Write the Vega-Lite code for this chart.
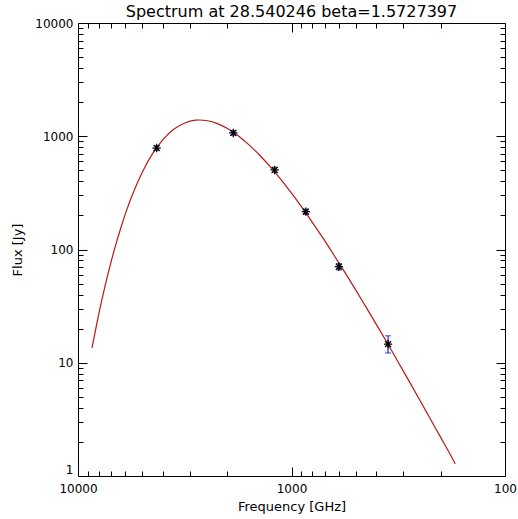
{
  "$schema": "https://vega.github.io/schema/vega-lite/v6.json",
  "autosize": {"type": "none"},
  "padding": {"left": 78, "top": 23, "right": 13, "bottom": 43},
  "width": 427,
  "height": 453,
  "background": "white",
  "title": {"text": "Spectrum at 28.540246 beta=1.5727397", "fontSize": 16, "font": "DejaVu Sans", "fontWeight": "normal", "color": "black", "offset": -3, "anchor": "middle"},
  "config": {
    "view": {"stroke": "black", "strokeWidth": 1},
    "axis": {"domain": false, "grid": false, "tickColor": "black", "tickWidth": 1, "labelFont": "DejaVu Sans", "labelFontSize": 12, "labelColor": "black", "titleFont": "DejaVu Sans", "titleFontSize": 13, "titleFontWeight": "normal", "titleColor": "black", "labelFlush": false, "labelOverlap": false}
  },
  "datasets": {
    "curve": [
      {"nu": 8600, "flux": 13.5}, {"nu": 8200, "flux": 21.3}, {"nu": 7943, "flux": 28.4}, {"nu": 7500, "flux": 46.0},
      {"nu": 7079, "flux": 71.6}, {"nu": 6700, "flux": 105.4}, {"nu": 6310, "flux": 154}, {"nu": 5950, "flux": 216},
      {"nu": 5623, "flux": 289}, {"nu": 5012, "flux": 477}, {"nu": 4467, "flux": 706}, {"nu": 3981, "flux": 944},
      {"nu": 3548, "flux": 1157}, {"nu": 3162, "flux": 1311}, {"nu": 2818, "flux": 1386}, {"nu": 2690, "flux": 1392},
      {"nu": 2512, "flux": 1377}, {"nu": 2239, "flux": 1299}, {"nu": 1995, "flux": 1171}, {"nu": 1778, "flux": 1012},
      {"nu": 1585, "flux": 844}, {"nu": 1413, "flux": 683}, {"nu": 1259, "flux": 539}, {"nu": 1122, "flux": 416},
      {"nu": 1000, "flux": 314}, {"nu": 891.3, "flux": 234}, {"nu": 794.3, "flux": 171}, {"nu": 707.9, "flux": 124},
      {"nu": 631, "flux": 88.6}, {"nu": 562.3, "flux": 62.8}, {"nu": 501.2, "flux": 44.2}, {"nu": 446.7, "flux": 30.8},
      {"nu": 398.1, "flux": 21.4}, {"nu": 354.8, "flux": 14.8}, {"nu": 316.2, "flux": 10.1}, {"nu": 281.8, "flux": 6.92},
      {"nu": 251.2, "flux": 4.72}, {"nu": 223.9, "flux": 3.2}, {"nu": 199.5, "flux": 2.17}, {"nu": 177.8, "flux": 1.47},
      {"nu": 171, "flux": 1.28}
    ],
    "obs": [
      {"nu": 4283, "flux": 787, "lo": 750, "hi": 825},
      {"nu": 1874, "flux": 1069, "lo": 1020, "hi": 1120},
      {"nu": 1199, "flux": 504, "lo": 480, "hi": 530},
      {"nu": 857, "flux": 216, "lo": 205, "hi": 227},
      {"nu": 600, "flux": 70.5, "lo": 66, "hi": 75},
      {"nu": 353, "flux": 14.6, "lo": 12.2, "hi": 17.3}
    ]
  },
  "resolve": {"axis": {"x": "independent", "y": "independent"}},
  "layer": [
    {
      "data": {"name": "curve"},
      "mark": {"type": "line", "color": "#b81818", "strokeWidth": 1.2, "clip": true, "interpolate": "monotone"},
      "encoding": {
        "x": {"field": "nu", "type": "quantitative", "scale": {"type": "log", "domain": [100, 10000], "reverse": true, "nice": false},
              "axis": {"orient": "bottom", "values": [100, 1000, 10000], "format": "d", "tickSize": -9, "labelPadding": 16, "title": "Frequency [GHz]", "titlePadding": 6}},
        "y": {"field": "flux", "type": "quantitative", "scale": {"type": "log", "domain": [1, 10000], "nice": false},
              "axis": {"orient": "left", "values": [1, 10, 100, 1000, 10000], "format": "d", "tickSize": -9, "labelPadding": 14, "title": "Flux [Jy]", "titlePadding": 10,
                       "labelBaseline": {"condition": {"test": "datum.value == 1", "value": "bottom"}, "value": "middle"}}}
      }
    },
    {
      "data": {"name": "obs"},
      "mark": {"type": "rule", "color": "#2020c0", "strokeWidth": 1.2},
      "encoding": {
        "x": {"field": "nu", "type": "quantitative",
              "axis": {"orient": "bottom", "values": [200, 300, 400, 500, 600, 700, 800, 900, 2000, 3000, 4000, 5000, 6000, 7000, 8000, 9000], "tickSize": -5, "labels": false, "title": null}},
        "y": {"field": "lo", "type": "quantitative",
              "axis": {"orient": "left", "values": [2, 3, 4, 5, 6, 7, 8, 9, 20, 30, 40, 50, 60, 70, 80, 90, 200, 300, 400, 500, 600, 700, 800, 900, 2000, 3000, 4000, 5000, 6000, 7000, 8000, 9000], "tickSize": -5, "labels": false, "title": null}},
        "y2": {"field": "hi"}
      }
    },
    {
      "data": {"name": "obs"},
      "mark": {"type": "tick", "orient": "horizontal", "color": "#2020c0", "size": 6, "thickness": 1.2},
      "encoding": {
        "x": {"field": "nu", "type": "quantitative",
              "axis": {"orient": "top", "values": [100, 1000, 10000], "tickSize": -9, "labels": false, "title": null}},
        "y": {"field": "lo", "type": "quantitative",
              "axis": {"orient": "right", "values": [1, 10, 100, 1000, 10000], "tickSize": -9, "labels": false, "title": null}}
      }
    },
    {
      "data": {"name": "obs"},
      "mark": {"type": "tick", "orient": "horizontal", "color": "#2020c0", "size": 6, "thickness": 1.2},
      "encoding": {
        "x": {"field": "nu", "type": "quantitative",
              "axis": {"orient": "top", "values": [200, 300, 400, 500, 600, 700, 800, 900, 2000, 3000, 4000, 5000, 6000, 7000, 8000, 9000], "tickSize": -5, "labels": false, "title": null}},
        "y": {"field": "hi", "type": "quantitative",
              "axis": {"orient": "right", "values": [2, 3, 4, 5, 6, 7, 8, 9, 20, 30, 40, 50, 60, 70, 80, 90, 200, 300, 400, 500, 600, 700, 800, 900, 2000, 3000, 4000, 5000, 6000, 7000, 8000, 9000], "tickSize": -5, "labels": false, "title": null}}
      }
    },
    {
      "data": {"name": "obs"},
      "mark": {"type": "point", "shape": "M-1,0L1,0M0,-1L0,1M-0.7,-0.7L0.7,0.7M-0.7,0.7L0.7,-0.7", "filled": false, "stroke": "black", "strokeWidth": 1.3, "size": 70, "opacity": 1},
      "encoding": {
        "x": {"field": "nu", "type": "quantitative", "axis": null},
        "y": {"field": "flux", "type": "quantitative", "axis": null}
      }
    }
  ]
}
